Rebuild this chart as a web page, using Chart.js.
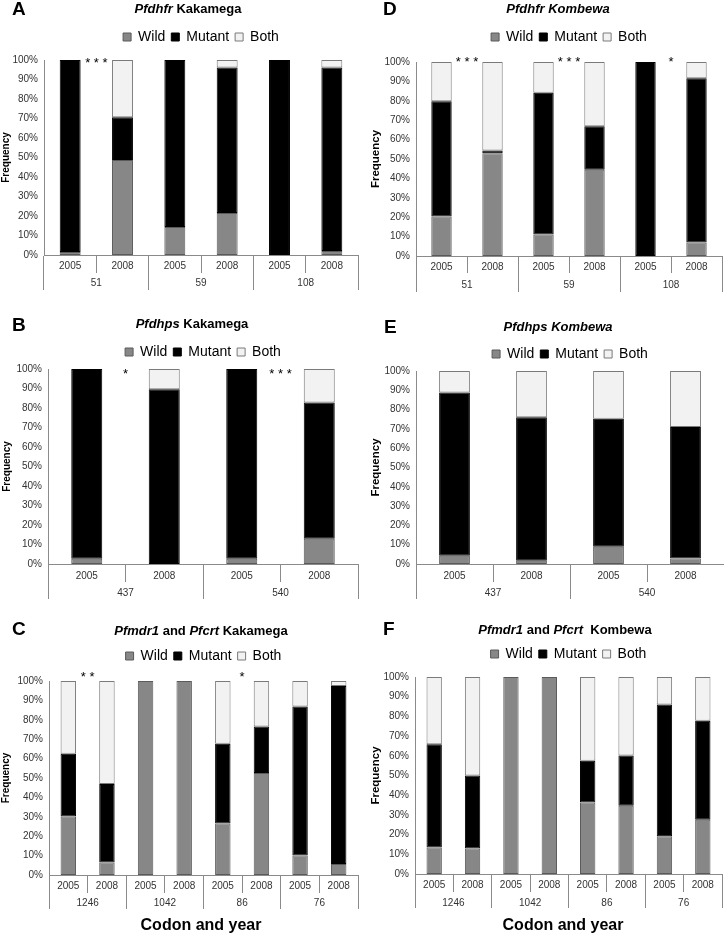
<!DOCTYPE html>
<html><head><meta charset="utf-8">
<script src="https://cdn.jsdelivr.net/npm/chart.js@4/dist/chart.umd.min.js"></script>
<style>
body{margin:0;background:#fff;}
#fig{position:relative;width:724px;height:934px;overflow:hidden;font-family:"Liberation Sans",Arial,sans-serif;color:#000;}
.panel{position:absolute;}
.panel canvas{position:absolute;left:0;top:0;}
.lbl{position:absolute;font-weight:bold;font-size:19px;line-height:20px;}
.ttl{position:absolute;font-weight:bold;font-size:13px;line-height:13px;white-space:nowrap;transform:translateX(-50%);}
.xt{position:absolute;font-weight:bold;font-size:16px;line-height:16px;white-space:nowrap;transform:translateX(-50%);}
</style></head>
<body>
<div id="fig">
  <div class="panel" style="left:0;top:0;width:362px;height:300px"><canvas id="cA" width="362" height="300"></canvas></div>
  <div class="panel" style="left:362px;top:0;width:362px;height:300px"><canvas id="cD" width="362" height="300"></canvas></div>
  <div class="panel" style="left:0;top:300px;width:362px;height:300px"><canvas id="cB" width="362" height="300"></canvas></div>
  <div class="panel" style="left:362px;top:300px;width:362px;height:300px"><canvas id="cE" width="362" height="300"></canvas></div>
  <div class="panel" style="left:0;top:600px;width:362px;height:334px"><canvas id="cC" width="362" height="334"></canvas></div>
  <div class="panel" style="left:362px;top:600px;width:362px;height:334px"><canvas id="cF" width="362" height="334"></canvas></div>

  <div class="lbl" style="left:12px;top:-1px">A</div>
  <div class="lbl" style="left:383px;top:-1px">D</div>
  <div class="lbl" style="left:12px;top:315px">B</div>
  <div class="lbl" style="left:384px;top:317px">E</div>
  <div class="lbl" style="left:12px;top:619px">C</div>
  <div class="lbl" style="left:383px;top:619px">F</div>

  <div class="ttl" style="left:188px;top:2px"><i>Pfdhfr</i> Kakamega</div>
  <div class="ttl" style="left:558px;top:2px"><i>Pfdhfr Kombewa</i></div>
  <div class="ttl" style="left:192px;top:317px"><i>Pfdhps</i> Kakamega</div>
  <div class="ttl" style="left:558px;top:320px"><i>Pfdhps Kombewa</i></div>
  <div class="ttl" style="left:201px;top:624px"><i>Pfmdr1</i> and <i>Pfcrt</i> Kakamega</div>
  <div class="ttl" style="left:565px;top:623px"><i>Pfmdr1</i> and <i>Pfcrt</i>&nbsp; Kombewa</div>

  <div class="xt" style="left:201px;top:917px">Codon and year</div>
  <div class="xt" style="left:563px;top:917px">Codon and year</div>
</div>
<script>
// ---------- data ----------
const seriesNames = ['Wild', 'Mutant', 'Both'];

// A: Pfdhfr Kakamega
const yearsA = ['2005','2008','2005','2008','2005','2008'];
const codonsA = ['51','59','108'];
const wildA   = [1.5, 48.7, 14.4, 21.5, 0, 2.0];
const mutantA = [98.5, 21.9, 85.6, 74.6, 100, 94.1];
const bothA   = [0, 29.4, 0, 3.9, 0, 3.9];
const sigA    = ['***', '', ''];

// D: Pfdhfr Kombewa
const yearsD = ['2005','2008','2005','2008','2005','2008'];
const codonsD = ['51','59','108'];
const wildD   = [20.4, 53.0, 11.1, 44.4, 0, 7.0];
const mutantD = [59.4, 1.4, 73.1, 22.5, 100, 84.6];
const bothD   = [20.2, 45.6, 15.8, 33.1, 0, 8.4];
const sigD    = ['***', '***', '*'];

// B: Pfdhps Kakamega
const yearsB = ['2005','2008','2005','2008'];
const codonsB = ['437','540'];
const wildB   = [2.7, 0, 2.7, 13.0];
const mutantB = [97.3, 89.6, 97.3, 69.8];
const bothB   = [0, 10.4, 0, 17.2];
const sigB    = ['*', '***'];

// E: Pfdhps Kombewa
const yearsE = ['2005','2008','2005','2008'];
const codonsE = ['437','540'];
const wildE   = [4.3, 1.7, 9.0, 2.9];
const mutantE = [84.5, 74.3, 66.3, 68.1];
const bothE   = [11.2, 24.0, 24.7, 29.0];
const sigE    = ['', ''];

// C: Pfmdr1 and Pfcrt Kakamega
const yearsC = ['2005','2008','2005','2008','2005','2008','2005','2008'];
const codonsC = ['1246','1042','86','76'];
const wildC   = [30.1, 6.4, 100, 100, 26.6, 52.6, 10.1, 5.7];
const mutantC = [32.4, 40.5, 0, 0, 41.1, 23.9, 76.8, 91.7];
const bothC   = [37.5, 53.1, 0, 0, 32.3, 23.5, 13.1, 2.6];
const sigC    = ['**', '', '*', ''];

// F: Pfmdr1 and Pfcrt Kombewa
const yearsF = ['2005','2008','2005','2008','2005','2008','2005','2008'];
const codonsF = ['1246','1042','86','76'];
const wildF   = [13.4, 12.9, 100, 100, 36.3, 34.7, 19.2, 27.5];
const mutantF = [52.5, 37.1, 0, 0, 21.2, 25.5, 66.9, 50.3];
const bothF   = [34.1, 50.0, 0, 0, 42.5, 39.8, 13.9, 22.2];
const sigF    = ['', '', '', ''];

const yTicks = [0,10,20,30,40,50,60,70,80,90,100];

// ---------- rendering ----------
const FONT = '"Liberation Sans", Arial, sans-serif';
Chart.defaults.font.family = FONT;
Chart.defaults.color = '#333';

const sigPlugin = {
  id: 'sig',
  afterDatasetsDraw(chart, args, opts) {
    const marks = opts.marks || [];
    const x2 = chart.scales.x2, y = chart.scales.y, ctx = chart.ctx;
    const fs = 13;
    ctx.save();
    ctx.font = fs + 'px ' + FONT;
    ctx.fillStyle = '#000';
    ctx.textAlign = 'center';
    ctx.textBaseline = 'alphabetic';
    marks.forEach((m, i) => {
      if (!m) return;
      ctx.fillText(m.split('').join(' '), x2.getPixelForValue(i), y.getPixelForValue(100) + opts.dy + 0.57 * fs);
    });
    ctx.restore();
  }
};

function makeChart(id, years, codons, wild, mutant, both, sig, L) {
  const ds = (label, data, bg, bc) => ({label, data, xAxisID: 'x', yAxisID: 'y',
    backgroundColor: bg, borderColor: bc, borderWidth: 1, borderSkipped: false});
  return new Chart(document.getElementById(id), {
    type: 'bar',
    data: {
      labels: years,
      datasets: [
        ds(seriesNames[0], wild, '#878787', '#5a5a5a'),
        ds(seriesNames[1], mutant, '#000000', '#000000'),
        ds(seriesNames[2], both, '#f2f2f2', '#7a7a7a')
      ]
    },
    options: {
      responsive: false, animation: false, devicePixelRatio: 1,
      barPercentage: 0.4, categoryPercentage: 1.0,
      layout: {padding: {top: L.padTop, bottom: L.padBottom, left: 0, right: L.padRight}},
      plugins: {
        legend: {position: 'top', fullSize: false,
          labels: {boxWidth: 8, boxHeight: 8, padding: 6, color: '#000', font: {size: 14, family: FONT}}},
        tooltip: {enabled: false},
        sig: {marks: sig, dy: L.sigDy}
      },
      scales: {
        x: {stacked: true, offset: true, position: 'bottom',
          grid: {display: true, offset: true, drawOnChartArea: false, drawTicks: true, tickLength: L.tl1, color: '#8a8a8a'},
          border: {display: true, color: '#8a8a8a', width: 1},
          ticks: {padding: L.tp1, font: {size: 10}, color: '#333', maxRotation: 0, autoSkip: false},
          afterFit(s) { s.height = L.tl1; }},
        x2: {type: 'category', labels: codons, position: 'bottom', offset: true,
          grid: {display: true, offset: true, drawOnChartArea: false, drawTicks: true, tickLength: L.tl2, color: '#8a8a8a'},
          border: {display: false},
          ticks: {padding: L.tp2, font: {size: 10}, color: '#333', maxRotation: 0, autoSkip: false},
          afterFit(s) { s.height = L.tl2; }},
        spacer: {type: 'category', position: 'top', display: true,
          grid: {display: false, drawTicks: false}, ticks: {display: false}, border: {display: false},
          afterFit(s) { s.height = L.spacer; }},
        y: {stacked: true, min: 0, max: 100,
          afterBuildTicks(s) { s.ticks = yTicks.map(v => ({value: v})); },
          ticks: {padding: 6, font: {size: 10}, color: '#333', callback: v => v + '%'},
          grid: {display: false, drawTicks: false},
          border: {display: true, color: '#8a8a8a', width: 1},
          title: {display: true, text: 'Frequency', color: '#000',
            font: {size: L.ytSize, weight: 'bold'}, padding: {top: L.ytPad, bottom: 0}},
          afterFit(s) { s.width = L.yWidth; }}
      }
    },
    plugins: [sigPlugin]
  });
}

makeChart('cA', yearsA, codonsA, wildA, mutantA, bothA, sigA,
  {padTop: 24, spacer: 6, tl1: 18, tp1: -13, tl2: 17, tp2: -13, padBottom: 10, padRight: 4, yWidth: 44, ytSize: 10, ytPad: 0, sigDy: -0.5});
makeChart('cD', yearsD, codonsD, wildD, mutantD, bothD, sigD,
  {padTop: 24, spacer: 8, tl1: 17, tp1: -12, tl2: 19, tp2: -13, padBottom: 8, padRight: 2, yWidth: 54, ytSize: 11.5, ytPad: 7, sigDy: -3});
makeChart('cB', yearsB, codonsB, wildB, mutantB, bothB, sigB,
  {padTop: 39, spacer: 0, tl1: 18, tp1: -12, tl2: 17, tp2: -12, padBottom: 1, padRight: 4, yWidth: 48, ytSize: 10, ytPad: 1, sigDy: 1.5});
makeChart('cE', yearsE, codonsE, wildE, mutantE, bothE, sigE,
  {padTop: 41, spacer: 0, tl1: 18, tp1: -12, tl2: 17, tp2: -12, padBottom: 1, padRight: 0, yWidth: 54, ytSize: 11.5, ytPad: 7, sigDy: 0});
makeChart('cC', yearsC, codonsC, wildC, mutantC, bothC, sigC,
  {padTop: 43, spacer: 8, tl1: 18, tp1: -13, tl2: 16, tp2: -12, padBottom: 25, padRight: 4, yWidth: 49, ytSize: 10, ytPad: 0, sigDy: -7});
makeChart('cF', yearsF, codonsF, wildF, mutantF, bothF, sigF,
  {padTop: 41, spacer: 6, tl1: 18, tp1: -13, tl2: 16, tp2: -11, padBottom: 26, padRight: 2, yWidth: 53, ytSize: 11.5, ytPad: 7, sigDy: 0});
</script>
</body></html>
